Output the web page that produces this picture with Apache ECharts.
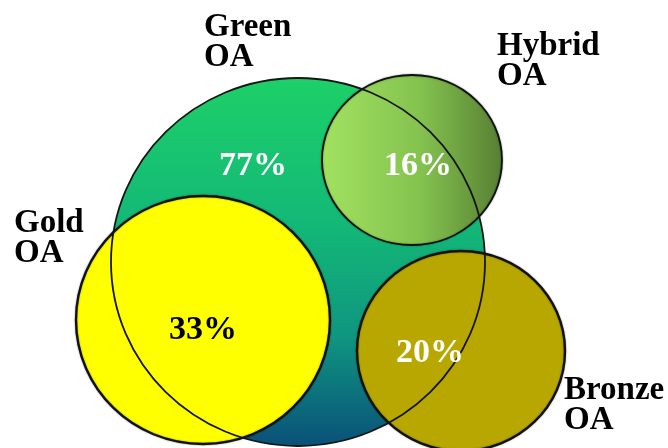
<!DOCTYPE html>
<html>
<head>
<meta charset="utf-8">
<script src="https://cdn.jsdelivr.net/npm/echarts@6/dist/echarts.min.js"></script>
<style>
html,body{margin:0;padding:0;background:#fff;}
#chart{width:668px;height:448px;}
</style>
</head>
<body>
<div id="chart"></div>
<script>
// ---- data ----
const sets = ['Green OA', 'Gold OA', 'Hybrid OA', 'Bronze OA'];
const shares = [77, 33, 16, 20];
const shareLabels = shares.map(v => v + '%');

// ---- layout (diagram geometry in axis units) ----
const layout = {
  'Green OA':  { cx: 298, cy: 262, rx: 187, ry: 184, name: [204, 42],  pct: [253, 166] },
  'Gold OA':   { cx: 203, cy: 320, rx: 127, ry: 124, name: [14, 238],  pct: [203, 330] },
  'Hybrid OA': { cx: 412, cy: 160, rx: 90,  ry: 85,  name: [497, 61],  pct: [418, 166] },
  'Bronze OA': { cx: 461, cy: 351, rx: 104, ry: 100, name: [564, 405], pct: [430, 353] }
};

// ---- styles ----
const fills = {
  'Green OA': new echarts.graphic.LinearGradient(0, 0, 0, 1, [
    { offset: 0, color: '#1dd068' }, { offset: 0.4, color: '#13b877' },
    { offset: 0.7, color: '#0f9680' }, { offset: 1, color: '#0a5179' }]),
  'Gold OA': '#ffff00',
  'Hybrid OA': new echarts.graphic.LinearGradient(0, 0, 1, 0, [
    { offset: 0, color: '#a2e260' }, { offset: 0.55, color: '#84c24f' },
    { offset: 1, color: '#577f33' }]),
  'Bronze OA': '#b9a701'
};
const pctColors = { 'Green OA': '#ffffff', 'Gold OA': '#000000', 'Hybrid OA': '#ffffff', 'Bronze OA': '#ffffff' };
const NAME_FONT = 'bold 33px "Liberation Serif", "Times New Roman", serif';
const PCT_FONT = 'bold 34px "Liberation Serif", "Times New Roman", serif';

// draw order: green fill, gold, hybrid, bronze, then green outline on top
const drawOrder = [0, 1, 2, 3, 0];
const circleData = drawOrder.map((si, k) => {
  const L = layout[sets[si]];
  return [L.cx, L.cy, L.rx, L.ry, si, k];
});
const labelData = sets.map((s, i) => [layout[s].pct[0], layout[s].pct[1], i]);

const chart = echarts.init(document.getElementById('chart'), null, { renderer: 'canvas' });
chart.setOption({
  animation: false,
  grid: { left: 0, right: 0, top: 0, bottom: 0 },
  xAxis: { type: 'value', min: 0, max: 668, show: false },
  yAxis: { type: 'value', min: 0, max: 448, inverse: true, show: false },
  series: [
    {
      type: 'custom',
      clip: false,
      data: circleData,
      renderItem: function (params, api) {
        const c = api.coord([api.value(0), api.value(1)]);
        const sz = api.size([api.value(2), api.value(3)]);
        const si = api.value(4);
        const k = api.value(5);
        const name = sets[si];
        let style;
        if (k === 0) {
          style = { fill: fills[name], stroke: null };
        } else if (k === 4) {
          style = { fill: null, stroke: '#151515', lineWidth: 1.8 };
        } else {
          style = { fill: fills[name], stroke: '#111', lineWidth: name === 'Hybrid OA' ? 1.8 : 2.4,
                    shadowBlur: 2, shadowColor: 'rgba(0,0,0,0.35)' };
        }
        return {
          type: 'ellipse',
          shape: { cx: c[0], cy: c[1], rx: sz[0], ry: sz[1] },
          style: style
        };
      }
    },
    {
      type: 'custom',
      clip: false,
      data: labelData,
      renderItem: function (params, api) {
        const i = api.value(2);
        const name = sets[i];
        const L = layout[name];
        const p = api.coord([api.value(0), api.value(1)]);
        const n = api.coord(L.name);
        return {
          type: 'group',
          children: [
            { type: 'text', style: { text: shareLabels[i], x: p[0], y: p[1], font: PCT_FONT,
                fill: pctColors[name], align: 'center', verticalAlign: 'middle' } },
            { type: 'text', style: { text: name.replace(' ', '\n'), x: n[0], y: n[1], font: NAME_FONT,
                fill: '#000', align: 'left', verticalAlign: 'middle', lineHeight: 30 } }
          ]
        };
      }
    }
  ]
});
</script>
</body>
</html>
